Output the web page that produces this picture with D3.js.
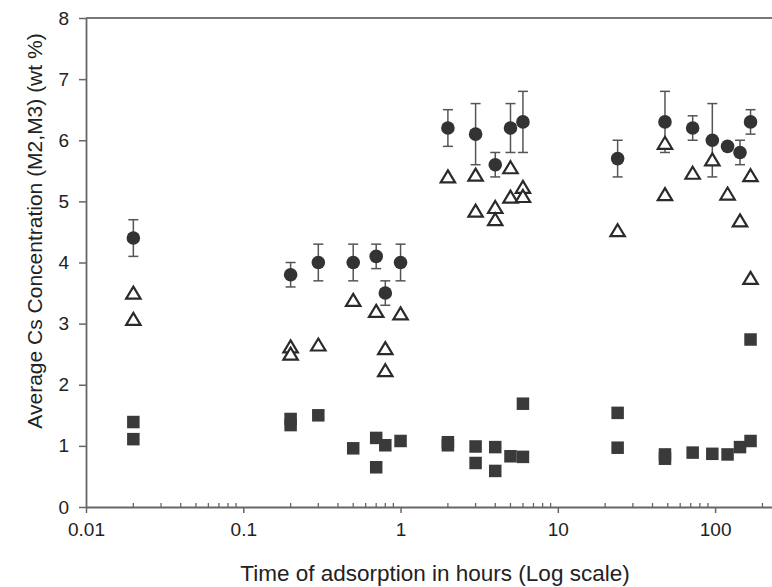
<!DOCTYPE html>
<html lang="en">
<head>
  <meta charset="UTF-8">
  <title>Average Cs Concentration vs Time</title>
  <script src="https://cdn.jsdelivr.net/npm/d3@7"></script>
  <style>
    body {
      margin: 0;
      background-color: #fff;
      font-family: "Liberation Sans", Arial, sans-serif;
    }
    .axis path, .axis line {
      stroke: #666;
    }
    .title {
      fill: #222;
    }
  </style>
</head>
<body>
  <div id="chart"></div>
  <script>
    // Filled circles: mean with error bars
    const circleTimes = [0.02, 0.2, 0.3, 0.5, 0.7, 0.8, 1, 2, 3, 4, 5, 6, 24, 48, 72, 96, 120, 144, 168];
    const circleMeans = [4.4, 3.8, 4.0, 4.0, 4.1, 3.5, 4.0, 6.2, 6.1, 5.6, 6.2, 6.3, 5.7, 6.3, 6.2, 6.0, 5.9, 5.8, 6.3];
    const circleErrs  = [0.3, 0.2, 0.3, 0.3, 0.2, 0.2, 0.3, 0.3, 0.5, 0.2, 0.4, 0.5, 0.3, 0.5, 0.2, 0.6, 0.0, 0.2, 0.2];

    // Open triangles
    const triTimes  = [0.02, 0.02, 0.2, 0.2, 0.3, 0.5, 0.7, 0.8, 0.8, 1, 2, 3, 3, 4, 4, 5, 5, 6, 6, 24, 48, 48, 72, 96, 120, 144, 168, 168];
    const triValues = [3.5, 3.07, 2.62, 2.5, 2.65, 3.38, 3.2, 2.59, 2.23, 3.16, 5.4, 5.43, 4.84, 4.9, 4.7, 5.55, 5.07, 5.23, 5.08, 4.52, 5.95, 5.11, 5.46, 5.68, 5.12, 4.68, 5.42, 3.74];

    // Filled squares
    const sqTimes  = [0.02, 0.02, 0.2, 0.2, 0.3, 0.5, 0.7, 0.7, 0.8, 1, 2, 2, 3, 3, 4, 4, 5, 6, 6, 24, 24, 48, 48, 72, 96, 120, 144, 168, 168];
    const sqValues = [1.39, 1.11, 1.44, 1.34, 1.5, 0.96, 1.13, 0.65, 1.01, 1.08, 1.06, 1.01, 0.99, 0.72, 0.98, 0.59, 0.83, 1.69, 0.82, 1.54, 0.97, 0.86, 0.79, 0.89, 0.87, 0.86, 0.98, 1.08, 2.74];

    const yTicks = [0, 1, 2, 3, 4, 5, 6, 7, 8];

    const width = 772, height = 587;
    const plot = { left: 86, right: 772, top: 18, bottom: 507 };

    const svg = d3.select("#chart")
      .append("svg")
      .attr("width", width)
      .attr("height", height);

    const x = d3.scaleLog()
      .domain([0.01, 230])
      .range([plot.left, plot.right]);

    const y = d3.scaleLinear()
      .domain([0, 8])
      .range([plot.bottom, plot.top]);

    // top frame line
    svg.append("line")
      .attr("x1", plot.left).attr("x2", plot.right)
      .attr("y1", plot.top).attr("y2", plot.top)
      .attr("stroke", "#777")
      .attr("stroke-width", 2);

    // x axis: major ticks down, minor ticks up
    const allTicks = x.ticks(10).filter(t => t <= 230);
    const isMajor = t => Math.abs(Math.log10(t) - Math.round(Math.log10(t))) < 1e-9;
    const majorTicks = allTicks.filter(isMajor);
    const minorTicks = allTicks.filter(t => !isMajor(t));

    const xAxis = svg.append("g")
      .attr("class", "axis")
      .attr("transform", `translate(0,${plot.bottom})`)
      .call(d3.axisBottom(x)
        .tickValues(majorTicks)
        .tickSize(6)
        .tickSizeOuter(0)
        .tickPadding(10)
        .tickFormat(d => d3.format("~g")(d)))
      .attr("font-size", 19)
      .attr("font-family", "Liberation Sans, Arial, sans-serif");
    xAxis.select(".domain").attr("stroke-width", 1.8);
    xAxis.selectAll(".tick line").attr("stroke-width", 1.5);
    xAxis.selectAll(".tick text").attr("fill", "#222");

    svg.append("g")
      .selectAll("line")
      .data(minorTicks)
      .enter()
      .append("line")
      .attr("x1", d => x(d)).attr("x2", d => x(d))
      .attr("y1", plot.bottom).attr("y2", plot.bottom - 4)
      .attr("stroke", "#666")
      .attr("stroke-width", 1.3);

    // y axis
    const yAxis = svg.append("g")
      .attr("class", "axis")
      .attr("transform", `translate(${plot.left},0)`)
      .call(d3.axisLeft(y)
        .tickValues(yTicks)
        .tickSize(7)
        .tickSizeOuter(0)
        .tickPadding(10))
      .attr("font-size", 19)
      .attr("font-family", "Liberation Sans, Arial, sans-serif");
    yAxis.select(".domain").attr("stroke-width", 1.8);
    yAxis.selectAll(".tick line").attr("stroke-width", 1.5);
    yAxis.selectAll(".tick text").attr("fill", "#222");

    // axis titles
    svg.append("text")
      .attr("class", "title")
      .attr("x", 435)
      .attr("y", 581)
      .attr("text-anchor", "middle")
      .attr("font-size", 22.5)
      .text("Time of adsorption in hours (Log scale)");

    svg.append("text")
      .attr("class", "title")
      .attr("transform", "translate(42,231) rotate(-90)")
      .attr("text-anchor", "middle")
      .attr("font-size", 21)
      .text("Average Cs Concentration (M2,M3) (wt %)");

    const circles = circleTimes.map((t, i) => ({ t, v: circleMeans[i], e: circleErrs[i] }));

    // error bars
    const bars = svg.append("g")
      .attr("stroke", "#555")
      .attr("stroke-width", 1.5);

    bars.selectAll(".stem")
      .data(circles.filter(d => d.e > 0))
      .enter()
      .append("line")
      .attr("x1", d => x(d.t)).attr("x2", d => x(d.t))
      .attr("y1", d => y(d.v - d.e)).attr("y2", d => y(d.v + d.e));

    ["lo", "hi"].forEach(side => {
      bars.selectAll(".cap-" + side)
        .data(circles.filter(d => d.e > 0))
        .enter()
        .append("line")
        .attr("x1", d => x(d.t) - 5).attr("x2", d => x(d.t) + 5)
        .attr("y1", d => y(side === "lo" ? d.v - d.e : d.v + d.e))
        .attr("y2", d => y(side === "lo" ? d.v - d.e : d.v + d.e));
    });

    // squares
    const sq = 12.5;
    svg.selectAll(".sq")
      .data(sqTimes.map((t, i) => ({ t, v: sqValues[i] })))
      .enter()
      .append("rect")
      .attr("x", d => x(d.t) - sq / 2)
      .attr("y", d => y(d.v) - sq / 2)
      .attr("width", sq)
      .attr("height", sq)
      .attr("fill", "#3a3a3a");

    // triangles
    svg.selectAll(".tri")
      .data(triTimes.map((t, i) => ({ t, v: triValues[i] })))
      .enter()
      .append("path")
      .attr("d", "M0,-6.5L7.2,5.5L-7.2,5.5Z")
      .attr("transform", d => `translate(${x(d.t)},${y(d.v)})`)
      .attr("fill", "#fff")
      .attr("stroke", "#2a2a2a")
      .attr("stroke-width", 2.2)
      .attr("stroke-linejoin", "miter");

    // circles
    svg.selectAll(".dot")
      .data(circles)
      .enter()
      .append("circle")
      .attr("cx", d => x(d.t))
      .attr("cy", d => y(d.v))
      .attr("r", 6.8)
      .attr("fill", "#333");
  </script>
</body>
</html>
